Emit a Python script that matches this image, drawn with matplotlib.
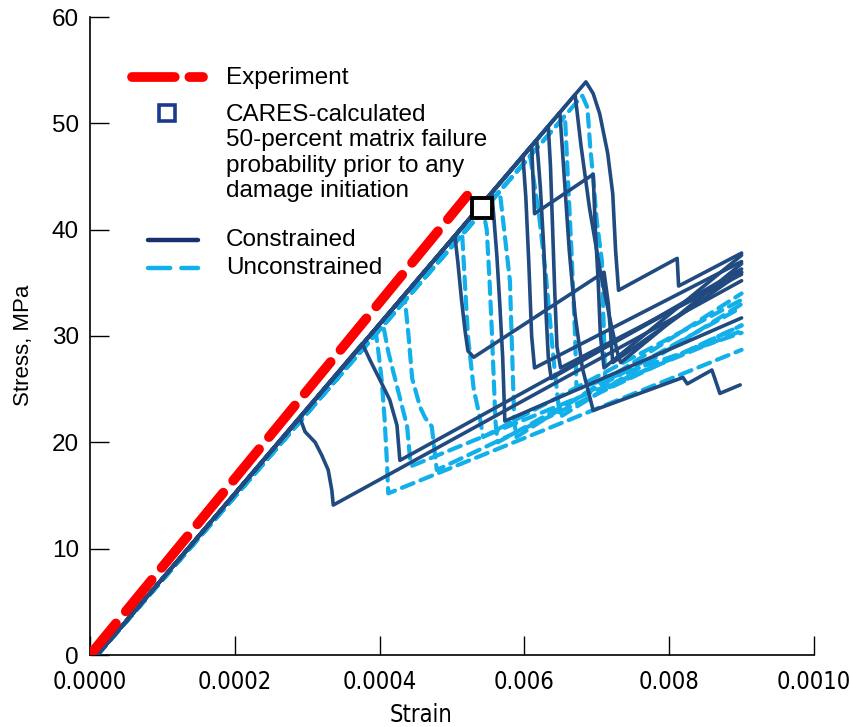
import numpy as np
import matplotlib
matplotlib.use("Agg")
import matplotlib.pyplot as plt
from matplotlib.lines import Line2D
from matplotlib import font_manager as fm

# ---------------- data (strain in units of 1e-4, stress in MPa) ----------------
exp_strain = [0.0, 5.21]
exp_stress = [0.0, 43.2]

cares_strain = [5.41]
cares_stress = [42.0]

constrained_strain = [
    [0.1, 2.90, 2.97, 3.11, 3.20, 3.29, 3.34, 3.36, 9.0],
    [0.1, 3.76, 3.87, 4.01, 4.14, 4.24, 4.28, 9.0],
    [0.1, 5.04, 5.08, 5.13, 5.18, 5.22, 5.30, 7.10, 7.16, 7.22, 9.0],
    [0.1, 5.55, 5.58, 5.62, 5.66, 5.70, 5.73, 9.0],
    [0.1, 5.98, 6.02, 6.06, 6.10, 6.14, 9.0],
    [0.1, 6.17, 6.22, 6.27, 6.30, 6.33, 6.37, 9.0],
    [0.1, 6.33, 6.36, 6.39, 6.42, 6.45, 6.50, 9.0],
    [0.1, 6.10, 6.14, 6.95, 6.98, 7.02, 7.05, 7.10, 9.0],
    [0.1, 6.85, 6.95, 7.04, 7.15, 7.22, 7.26, 7.30, 8.11, 8.13, 9.0],
    [0.1, 6.70, 6.78, 6.90, 7.05, 7.20, 7.30, 7.33, 9.0],
    [0.1, 6.49, 6.55, 6.62, 6.70, 6.80, 6.95, 8.19, 8.25, 8.59, 8.70, 8.98],
]
constrained_stress = [
    [0, 22.3, 21.0, 20.0, 18.8, 17.4, 15.5, 14.1, 35.2],
    [0, 29.3, 27.7, 25.8, 24.0, 21.6, 18.3, 36.0],
    [0, 39.4, 37.0, 33.5, 30.5, 28.6, 28.0, 36.0, 33.0, 27.5, 36.0],
    [0, 43.5, 41.0, 37.5, 33.0, 28.0, 22.0, 31.7],
    [0, 46.9, 43.0, 37.0, 30.0, 27.0, 37.0],
    [0, 48.4, 44.0, 38.0, 32.0, 28.0, 26.0, 36.3],
    [0, 49.7, 46.0, 40.0, 34.0, 29.0, 27.0, 35.8],
    [0, 47.9, 41.5, 45.2, 40.0, 35.0, 30.0, 27.0, 37.6],
    [0, 53.9, 52.8, 50.9, 47.2, 43.4, 38.0, 34.3, 37.3, 34.7, 37.8],
    [0, 52.7, 48.0, 42.0, 36.0, 31.0, 28.0, 27.5, 36.8],
    [0, 51.0, 45.0, 38.0, 32.0, 27.0, 23.0, 26.1, 25.5, 26.8, 24.6, 25.4],
]

unconstrained_strain = [
    [0.1, 3.95, 3.98, 4.03, 4.07, 4.10, 4.12, 9.0],
    [0.1, 4.05, 4.12, 4.25, 4.38, 4.42, 4.45, 9.0],
    [0.1, 4.35, 4.40, 4.45, 4.56, 4.63, 4.72, 4.79, 9.0],
    [0.1, 5.14, 5.17, 5.22, 5.30, 5.38, 5.43, 9.0],
    [0.1, 5.43, 5.48, 5.52, 5.55, 5.60, 5.63, 9.0],
    [0.1, 5.66, 5.72, 5.80, 5.83, 5.86, 5.89, 9.0],
    [0.1, 6.08, 6.20, 6.30, 6.40, 6.47, 6.52, 9.0],
    [0.1, 6.56, 6.60, 6.65, 6.70, 6.72, 9.0],
    [0.1, 6.80, 6.87, 6.91, 6.95, 7.00, 7.07, 7.09, 7.12, 9.0],
]
unconstrained_stress = [
    [0, 30.2, 28.7, 25.8, 22.1, 18.3, 15.2, 28.7],
    [0, 31.0, 28.5, 25.0, 21.5, 18.5, 17.8, 30.5],
    [0, 33.4, 30.0, 26.0, 23.3, 22.3, 21.5, 17.4, 31.0],
    [0, 39.6, 36.0, 30.0, 25.0, 22.5, 20.5, 33.4],
    [0, 41.8, 40.0, 35.0, 30.5, 22.0, 20.0, 32.7],
    [0, 43.6, 40.0, 35.2, 28.6, 22.0, 20.5, 34.0],
    [0, 46.9, 41.5, 35.5, 28.0, 23.5, 22.5, 33.0],
    [0, 50.7, 45.0, 38.0, 30.0, 25.0, 30.3],
    [0, 52.6, 51.5, 47.7, 44.9, 40.8, 37.1, 32.1, 25.0, 31.0],
]

x_ticks = [0.0, 0.0002, 0.0004, 0.0006, 0.0008, 0.0010]
x_tick_labels = ["0.0000", "0.0002", "0.0004", "0.006", "0.008", "0.0010"]
y_ticks = [0, 10, 20, 30, 40, 50, 60]

legend_labels = ["Experiment",
                 "CARES-calculated\n50-percent matrix failure\nprobability prior to any\ndamage initiation",
                 "Constrained", "Unconstrained"]

# ---------------- style ----------------
DARK = "#204a80"
LIGHT = "#12b0ea"
RED = "#ff0000"
plt.rcParams['font.family'] = ['Liberation Sans', 'DejaVu Sans']

names = {f.name for f in fm.fontManager.ttflist}
if 'Liberation Sans Narrow' in names:
    narrow = dict(family='Liberation Sans Narrow')
else:
    narrow = dict(family='DejaVu Sans', stretch='condensed')

fig = plt.figure(figsize=(8.5, 7.27), dpi=100)
ax = fig.add_axes([90/850, 72/727, 724/850, 638/727])

E = 1e-4
for s, t in zip(unconstrained_strain, unconstrained_stress):
    ax.plot(np.array(s)*E, t, color=LIGHT, lw=3.0, ls=(0, (3.0, 1.8)),
            solid_joinstyle='round', dash_capstyle='round', zorder=2)
for s, t in zip(constrained_strain, constrained_stress):
    ax.plot(np.array(s)*E, t, color=DARK, lw=2.6, solid_joinstyle='round',
            solid_capstyle='round', zorder=3)

ax.plot(np.array(exp_strain)*E, exp_stress, color=RED, lw=7, ls=(0, (4.2, 1.6)),
        dash_capstyle='round', zorder=4)
ax.plot(np.array(cares_strain)*E, cares_stress, ls='none', marker='s', ms=14,
        mfc='white', mec='black', mew=2.8, zorder=5)

ax.set_xlim(0, 0.0010)
ax.set_ylim(0, 60)
ax.set_xticks(x_ticks)
ax.set_xticklabels(x_tick_labels, fontsize=17, **narrow)
ax.set_yticks(y_ticks)
ax.set_yticklabels([str(v) for v in y_ticks], fontsize=17.5)
ax.tick_params(axis='x', direction='in', length=14, width=1.0, pad=11)
ax.tick_params(axis='y', direction='in', length=14, width=1.0, pad=8)
for sp in ['top', 'right']:
    ax.spines[sp].set_visible(False)
for sp in ['left', 'bottom']:
    ax.spines[sp].set_linewidth(1.2)
ax.set_xlabel("Strain", fontsize=17, **narrow)
ax.xaxis.set_label_coords((421 - 90) / 724, (655 - 703) / 638)
ax.set_ylabel("Stress, MPa", fontsize=16)
ax.yaxis.set_label_coords((34 - 90) / 724, (655 - 345) / 638)

# ---------------- legend (drawn in axes fraction) ----------------
def axx(px):
    return (px - 90) / 724
def axy(py):
    return (655 - py) / 638

tr = ax.transAxes
ax.add_line(Line2D([axx(132), axx(203)], [axy(77)]*2, transform=tr, color=RED, lw=7,
                   ls=(0, (4.4, 1.5)), dash_capstyle='round'))
ax.plot([axx(167)], [axy(113)], transform=tr, marker='s', ms=12, mfc='white',
        mec='#1a3a8c', mew=2.6, ls='none')
ax.add_line(Line2D([axx(148), axx(198)], [axy(240)]*2, transform=tr, color='#1a2f6e', lw=3.2,
                   solid_capstyle='round'))
ax.add_line(Line2D([axx(148), axx(198)], [axy(268)]*2, transform=tr, color=LIGHT, lw=3.2,
                   ls=(0, (5, 2.5)), dash_capstyle='round'))
fs = 17.5
ax.text(axx(226), axy(78), legend_labels[0], transform=tr, fontsize=fs, va='center')
ax.text(axx(226), axy(104), legend_labels[1], transform=tr, fontsize=fs, va='top',
        linespacing=1.2)
ax.text(axx(226), axy(240), legend_labels[2], transform=tr, fontsize=fs, va='center')
ax.text(axx(226), axy(268), legend_labels[3], transform=tr, fontsize=fs, va='center')

fig.savefig("out.png", dpi=100)
